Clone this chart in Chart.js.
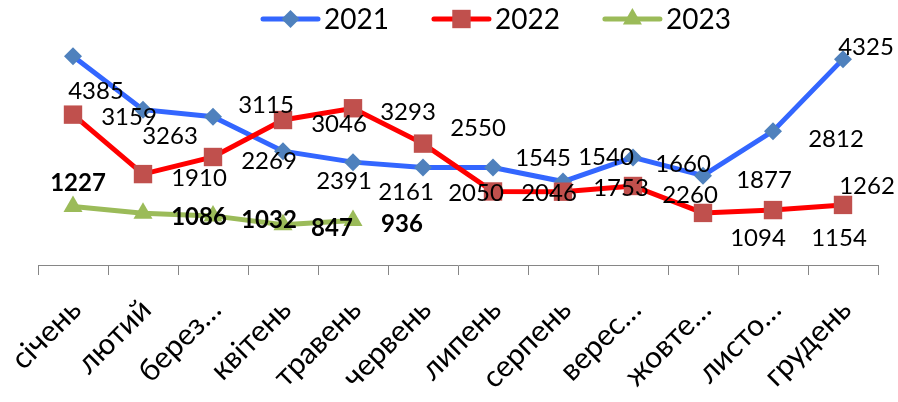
<!DOCTYPE html>
<html>
<head>
<meta charset="utf-8">
<script src="https://cdn.jsdelivr.net/npm/chart.js@4"></script>
<style>
  html, body { margin: 0; padding: 0; background: #fff; }
</style>
</head>
<body>
<canvas id="chart" width="898" height="402"></canvas>
<script>
// --- data ---
var months = ['січень', 'лютий', 'берез…', 'квітень', 'травень', 'червень', 'липень', 'серпень', 'верес…', 'жовте…', 'листо…', 'грудень'];
var seriesNames = ['2021', '2022', '2023'];
var values2021 = [4385, 3263, 3115, 2391, 2161, 2050, 2046, 1753, 2260, 1877, 2812, 4325];
var values2022 = [3159, 1910, 2269, 3046, 3293, 2550, 1545, 1540, 1660, 1094, 1154, 1262];
var values2023 = [1227, 1086, 1032, 847, 936];
var yMin = 0;
var yMax = 5000;

// where each value label sits relative to its point (px), they were dragged by hand in the original
var labelOffsets = [
  [[23,35],[27,27],[53,-11],[61,30],[53,30],[53,26],[56,26],[58,7],[57,38],[61,5],[63,8],[23,-12]],
  [[56,3],[56,4],[56,4],[56,4],[55,4],[55,-15],[50,-33],[43,-34],[50,-22],[55,25],[66,28],[24,-19]],
  [[5,-23],[56,4],[56,4],[49,4],[49,4]]
];

var FONT = 'Lato, "Liberation Sans", sans-serif';

// values next to the points
var valueLabels = {
  id: 'valueLabels',
  afterDatasetsDraw: function(chart) {
    var ctx = chart.ctx;
    ctx.save();
    ctx.fillStyle = '#000';
    ctx.textAlign = 'center';
    ctx.textBaseline = 'middle';
    chart.data.datasets.forEach(function(ds, i) {
      var meta = chart.getDatasetMeta(i);
      ctx.font = (ds.boldLabels ? 'bold ' : '') + '24px ' + FONT;
      meta.data.forEach(function(pt, j) {
        var o = labelOffsets[i][j];
        ctx.fillText(String(ds.data[j]), pt.x + o[0], pt.y + o[1]);
      });
    });
    ctx.restore();
  }
};

// excel style legend: line with marker in the middle, then the name
var lineLegend = {
  id: 'lineLegend',
  afterDraw: function(chart) {
    var ctx = chart.ctx;
    var x = 263, y = 19;
    ctx.save();
    ctx.font = '28px ' + FONT;
    ctx.textBaseline = 'middle';
    chart.data.datasets.forEach(function(ds) {
      ctx.strokeStyle = ds.borderColor;
      ctx.lineWidth = 5;
      ctx.lineCap = 'round';
      ctx.beginPath();
      ctx.moveTo(x, y);
      ctx.lineTo(x + 55, y);
      ctx.stroke();
      ctx.fillStyle = ds.pointBackgroundColor;
      ctx.strokeStyle = ds.pointBackgroundColor;
      Chart.helpers.drawPoint(ctx, { pointStyle: ds.pointStyle, radius: ds.pointRadius, borderWidth: 0, rotation: 0 }, x + 27.5, y);
      ctx.fillStyle = '#000';
      ctx.fillText(ds.label, x + 61, y + 1);
      x += 61 + ctx.measureText(ds.label).width + 45;
    });
    ctx.restore();
  }
};

var ctx = document.getElementById('chart').getContext('2d');
new Chart(ctx, {
  type: 'line',
  data: {
    labels: months,
    datasets: [
      {
        label: seriesNames[0],
        data: values2021,
        borderColor: '#3366FF',
        borderWidth: 5,
        pointStyle: 'rectRot',
        pointRadius: 9,
        pointBackgroundColor: '#4F81BD',
        pointBorderColor: '#4F81BD',
        pointBorderWidth: 0,
        order: 3
      },
      {
        label: seriesNames[1],
        data: values2022,
        borderColor: '#FF0000',
        borderWidth: 5,
        pointStyle: 'rect',
        pointRadius: 13,
        pointBackgroundColor: '#C0504D',
        pointBorderColor: '#C0504D',
        pointBorderWidth: 0,
        order: 2
      },
      {
        label: seriesNames[2],
        data: values2023,
        borderColor: '#9BBB59',
        borderWidth: 5,
        pointStyle: 'triangle',
        pointRadius: 11,
        pointBackgroundColor: '#9BBB59',
        pointBorderColor: '#9BBB59',
        pointBorderWidth: 0,
        boldLabels: true,
        order: 1
      }
    ]
  },
  options: {
    responsive: false,
    animation: false,
    devicePixelRatio: 1,
    layout: { padding: { top: 27, left: 38, right: 20, bottom: 0 } },
    elements: { line: { tension: 0 } },
    plugins: {
      legend: { display: false },
      tooltip: { enabled: false },
      title: { display: false }
    },
    scales: {
      x: {
        offset: true,
        grid: {
          offset: true,
          drawOnChartArea: false,
          drawTicks: true,
          tickLength: 10,
          color: '#868686'
        },
        border: { color: '#868686', width: 1 },
        ticks: {
          autoSkip: false,
          maxRotation: 45,
          minRotation: 45,
          padding: 17,
          labelOffset: 3,
          color: '#000',
          font: { family: FONT, size: 30 }
        },
        afterFit: function(scale) {
          scale.height = 137;
          // keep the plot where excel had it, the rotated labels may hang out to the left
          scale.paddingLeft = 0;
          scale.paddingRight = 0;
        }
      },
      y: {
        display: false,
        min: yMin,
        max: yMax
      }
    }
  },
  plugins: [valueLabels, lineLegend]
});
</script>
</body>
</html>
